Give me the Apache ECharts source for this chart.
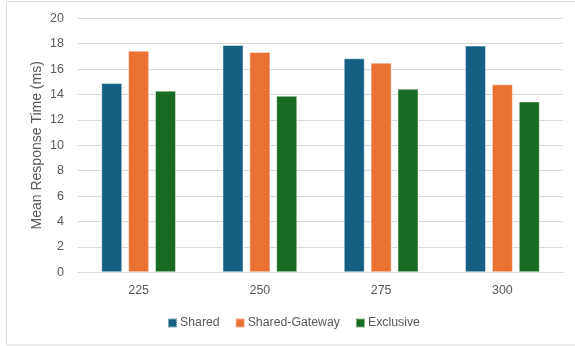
<!DOCTYPE html>
<html>
<head>
<meta charset="utf-8">
<script src="https://cdn.jsdelivr.net/npm/echarts@6/dist/echarts.min.js"></script>
<style>
  html, body { margin: 0; padding: 0; background: #fff; }
  #chart { width: 575px; height: 346px; }
</style>
</head>
<body>
<div id="chart"></div>
<script>
// Mean response time per load level, for each deployment mode
const categories = ['225', '250', '275', '300'];
const sharedValues = [14.9, 17.9, 16.85, 17.85];
const sharedGatewayValues = [17.45, 17.35, 16.5, 14.8];
const exclusiveValues = [14.3, 13.9, 14.45, 13.45];
const seriesNames = ['Shared', 'Shared-Gateway', 'Exclusive'];
const seriesColors = ['#156082', '#E97132', '#196B24'];

const FONT = 'Liberation Sans';
const TEXT_COLOR = '#595959';
const GRID_COLOR = '#d9d9d9';

const chart = echarts.init(document.getElementById('chart'));

function barSeries(name, data, color) {
  return {
    name: name,
    type: 'bar',
    data: data,
    barWidth: 21,
    barGap: '28%',
    itemStyle: { color: color, borderColor: 'rgba(255,255,255,0.45)', borderWidth: 1 },
    emphasis: { disabled: true }
  };
}

chart.setOption({
  animation: false,
  textStyle: { fontFamily: FONT },
  graphic: [{
    type: 'rect',
    shape: { x: 6.5, y: 1.5, width: 600, height: 343.5 },
    style: { fill: 'none', stroke: GRID_COLOR, lineWidth: 1 },
    silent: true,
    z: -1
  }],
  grid: { left: 78, right: 12, top: 18.3, bottom: 73.7 },
  legend: {
    data: seriesNames,
    left: 167,
    top: 317,
    itemWidth: 9,
    itemHeight: 9,
    itemGap: 15,
    icon: 'rect',
    textStyle: { fontFamily: FONT, fontSize: 12.3, color: TEXT_COLOR, padding: [0, 0, 0, -2] },
    padding: 0
  },
  xAxis: {
    type: 'category',
    data: categories,
    axisLine: { lineStyle: { color: GRID_COLOR, width: 1 } },
    axisTick: { show: false },
    axisLabel: { fontFamily: FONT, fontSize: 12.5, color: TEXT_COLOR, margin: 12 }
  },
  yAxis: {
    type: 'value',
    min: 0,
    max: 20,
    interval: 2,
    name: 'Mean Response Time (ms)',
    nameLocation: 'middle',
    nameGap: 34,
    nameMoveOverlap: false,
    nameTextStyle: { fontFamily: FONT, fontSize: 14, color: TEXT_COLOR },
    axisLine: { show: false },
    axisTick: { show: false },
    axisLabel: { fontFamily: FONT, fontSize: 12.5, color: TEXT_COLOR, margin: 14 },
    splitLine: { lineStyle: { color: GRID_COLOR, width: 1 } }
  },
  series: [
    barSeries(seriesNames[0], sharedValues, seriesColors[0]),
    barSeries(seriesNames[1], sharedGatewayValues, seriesColors[1]),
    barSeries(seriesNames[2], exclusiveValues, seriesColors[2])
  ]
});
</script>
</body>
</html>
